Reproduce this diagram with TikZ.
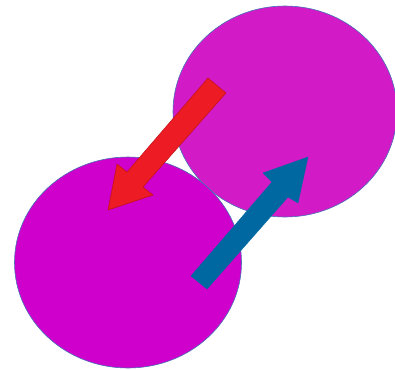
\documentclass[tikz,border=0pt]{standalone}
\usepackage{xcolor}
\usepackage{tikz}
\usetikzlibrary{shapes.geometric}
\definecolor{blobup}{HTML}{D21BC6}
\definecolor{blobdown}{HTML}{CF00CB}
\definecolor{blobrim}{HTML}{4672B8}
\definecolor{arrred}{HTML}{ED1C24}
\definecolor{arrredrim}{HTML}{C0101A}
\definecolor{arrblue}{HTML}{0068A0}
\begin{document}
\begin{tikzpicture}[x=1pt, y=-1pt,
  blob/.style={ellipse, draw=blobrim, line width=0.6pt, inner sep=0pt},
  redarr/.style={fill=arrred, draw=arrredrim, line width=0.5pt, line join=miter},
  bluearr/.style={fill=arrblue, draw=arrblue, line width=0.4pt, line join=miter}]
  \useasboundingbox (0,0) rectangle (395,369);
  % the two blobs
  \node[blob, fill=blobup, minimum width=224pt, minimum height=211pt] (up) at (285,111.5) {};
  \node[blob, fill=blobdown, minimum width=227pt, minimum height=211pt] (down) at (128,262.5) {};
  % block arrows
  \draw[redarr] (208,78) -- (127,172) -- (117,164) -- (108,210) -- (153,195) -- (143,187) -- (226,93) -- cycle;
  \draw[bluearr] (191,276) -- (272,182) -- (263,173) -- (308,157) -- (298,203) -- (288,197) -- (207,289) -- cycle;
\end{tikzpicture}
\end{document}
